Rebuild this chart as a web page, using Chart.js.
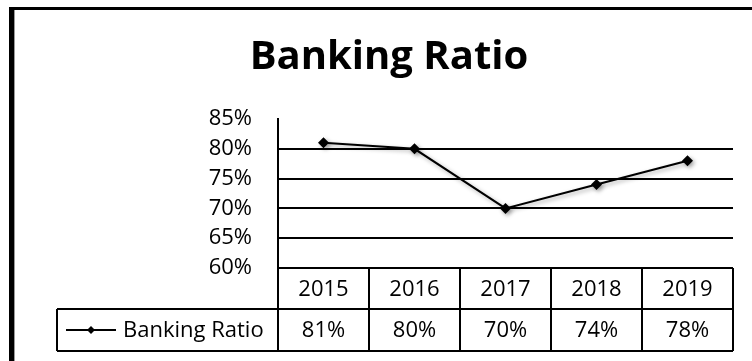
<!DOCTYPE html>
<html>
<head>
<meta charset="utf-8">
<script src="https://cdn.jsdelivr.net/npm/chart.js@4.4.1/dist/chart.umd.min.js"></script>
<style>
  html, body { margin:0; padding:0; background:#fff; }
  #wrap { width:752px; height:361px; }
</style>
</head>
<body>
<div id="wrap"><canvas id="chart" width="752" height="361"></canvas></div>
<script>
// Chart data
const years = ['2015', '2016', '2017', '2018', '2019'];
const ratios = [81, 80, 70, 74, 78];
const yTicks = [60, 65, 70, 75, 80, 85];
const seriesName = 'Banking Ratio';
const chartTitle = 'Banking Ratio';

const FONT = "'Open Sans', 'DejaVu Sans', sans-serif";

// frame around the picture (left + top edges only are visible)
const framePlugin = {
  id: 'frame',
  beforeDraw(chart) {
    const ctx = chart.ctx;
    ctx.save();
    ctx.fillStyle = '#fff';
    ctx.fillRect(0, 0, chart.width, chart.height);
    ctx.fillStyle = '#000';
    ctx.fillRect(9, 7, 5, chart.height - 7);
    ctx.fillRect(9, 7, chart.width - 9, 3);
    ctx.fillStyle = '#9a9a9a';
    ctx.fillRect(14, 10, 1, chart.height - 10);
    ctx.restore();
  }
};

// soft shadow under the line and markers
const shadowPlugin = {
  id: 'lineShadow',
  beforeDatasetsDraw(chart) {
    const ctx = chart.ctx;
    ctx.save();
    ctx.shadowColor = 'rgba(0,0,0,0.35)';
    ctx.shadowBlur = 4;
    ctx.shadowOffsetX = 2;
    ctx.shadowOffsetY = 2;
  },
  afterDatasetsDraw(chart) {
    chart.ctx.restore();
  }
};

// data table under the plot
const tablePlugin = {
  id: 'dataTable',
  afterDraw(chart) {
    const ctx = chart.ctx;
    const xs = chart.scales.x;
    const area = chart.chartArea;
    const top = area.bottom;
    const mid = top + 41;
    const bottom = top + 83;
    const legendLeft = 57;
    const step = (area.right - area.left) / years.length;

    ctx.save();
    ctx.strokeStyle = '#000';
    ctx.lineWidth = 2;
    ctx.beginPath();
    ctx.moveTo(area.left, top); ctx.lineTo(area.right, top);
    ctx.moveTo(legendLeft, mid); ctx.lineTo(area.right, mid);
    ctx.moveTo(legendLeft, bottom); ctx.lineTo(area.right, bottom);
    ctx.moveTo(legendLeft, mid); ctx.lineTo(legendLeft, bottom);
    for (let i = 0; i <= years.length; i++) {
      const x = area.left + i * step;
      ctx.moveTo(x, top); ctx.lineTo(x, bottom);
    }
    ctx.stroke();

    ctx.fillStyle = '#000';
    ctx.font = '22px ' + FONT;
    ctx.textAlign = 'center';
    ctx.textBaseline = 'middle';
    years.forEach((y, i) => {
      const cx = xs.getPixelForValue(i);
      ctx.fillText(y, cx, (top + mid) / 2 + 1);
      ctx.fillText(ratios[i] + '%', cx, (mid + bottom) / 2 + 1);
    });

    // legend key
    const ly = (mid + bottom) / 2;
    ctx.lineWidth = 2;
    ctx.beginPath();
    ctx.moveTo(66, ly); ctx.lineTo(116, ly);
    ctx.stroke();
    ctx.beginPath();
    ctx.moveTo(91, ly - 4); ctx.lineTo(95, ly); ctx.lineTo(91, ly + 4); ctx.lineTo(87, ly);
    ctx.closePath();
    ctx.fill();
    ctx.textAlign = 'left';
    ctx.fillText(seriesName, 123, ly + 1);
    ctx.restore();
  }
};

new Chart(document.getElementById('chart'), {
  type: 'line',
  data: {
    labels: years,
    datasets: [{
      label: seriesName,
      data: ratios,
      borderColor: '#000',
      backgroundColor: '#000',
      borderWidth: 2,
      pointStyle: 'rectRot',
      pointRadius: 5.5,
      pointBorderWidth: 0,
      tension: 0
    }]
  },
  options: {
    responsive: false,
    animation: false,
    layout: { padding: { left: 45, right: 19, top: 0, bottom: 93 } },
    plugins: {
      legend: { display: false },
      tooltip: { enabled: false },
      title: {
        display: true,
        text: chartTitle,
        color: '#000',
        font: { family: FONT, size: 40, weight: 'bold', lineHeight: 1.2 },
        padding: { top: 34, bottom: 37 }
      }
    },
    scales: {
      x: {
        display: false,
        offset: true
      },
      y: {
        min: yTicks[0],
        max: yTicks[yTicks.length - 1],
        afterBuildTicks: s => { s.ticks = yTicks.map(v => ({ value: v })); },
        afterFit: s => { s.width = 233; },
        border: { display: true, color: '#000', width: 2 },
        grid: {
          drawTicks: false,
          lineWidth: 2,
          color: c => (c.tick && (c.tick.value === 85 || c.tick.value === 60)) ? 'rgba(0,0,0,0)' : '#000'
        },
        ticks: {
          padding: 26,
          color: '#000',
          font: { family: FONT, size: 22 },
          callback: v => v + '%'
        }
      }
    }
  },
  plugins: [framePlugin, shadowPlugin, tablePlugin]
});
</script>
</body>
</html>
